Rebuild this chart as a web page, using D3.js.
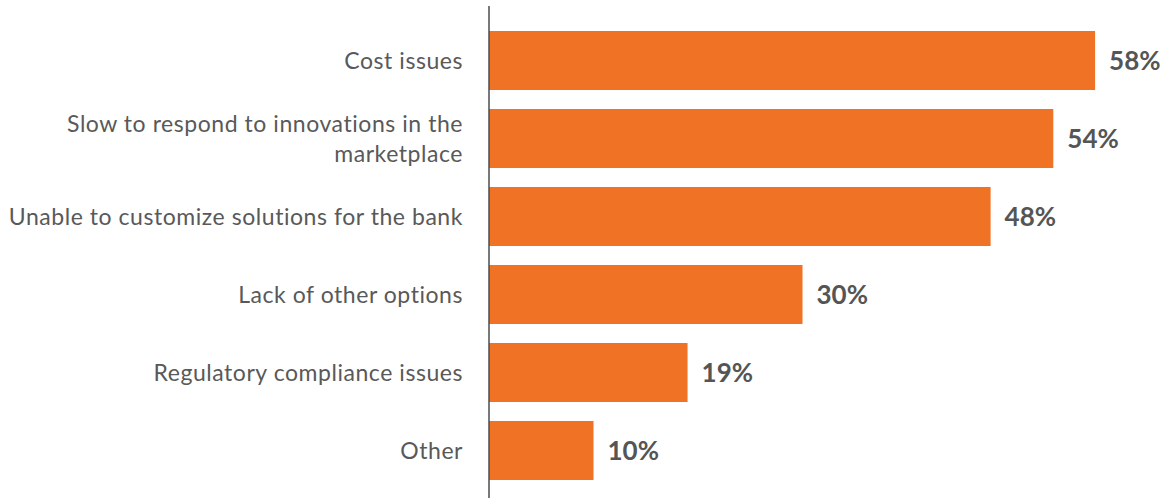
<!DOCTYPE html>
<html>
<head>
<meta charset="utf-8">
<script src="https://cdn.jsdelivr.net/npm/d3@7"></script>
<style>
  html, body { margin: 0; padding: 0; background: #fff; }
  svg { display: block; }
</style>
</head>
<body>
<div id="chart"></div>
<script>
const categories = [
    ['Cost issues'],
    ['Slow to respond to innovations in the', 'marketplace'],
    ['Unable to customize solutions for the bank'],
    ['Lack of other options'],
    ['Regulatory compliance issues'],
    ['Other']
];
const values = [58, 54, 48, 30, 19, 10];

const width = 1166;
const height = 498;
const axisX = 489;

const svg = d3.select('#chart').append('svg')
    .attr('width', width)
    .attr('height', height);

const y = d3.scaleBand()
    .domain(d3.range(categories.length))
    .range([21.5, 489.5])
    .paddingInner(19 / 78)
    .paddingOuter(9.5 / 78);

const x = d3.scaleLinear()
    .domain([0, 100])
    .range([axisX, axisX + 1045]);

// bars
svg.selectAll('.bar')
    .data(values)
    .enter().append('rect')
    .attr('class', 'bar')
    .attr('x', x(0))
    .attr('y', (d, i) => y(i))
    .attr('width', d => x(d) - x(0))
    .attr('height', y.bandwidth())
    .attr('fill', '#f07224');

// value labels
svg.selectAll('.value')
    .data(values)
    .enter().append('text')
    .attr('class', 'value')
    .attr('x', d => x(d) + 14)
    .attr('y', (d, i) => y(i) + y.bandwidth() / 2)
    .attr('dy', '0.36em')
    .attr('font-family', 'Lato')
    .attr('font-weight', 'bold')
    .attr('font-size', '26px')
    .attr('fill', '#555')
    .text(d => d + '%');

// category labels
const lineHeight = 30;
const labels = svg.selectAll('.cat')
    .data(categories)
    .enter().append('text')
    .attr('class', 'cat')
    .attr('text-anchor', 'end')
    .attr('font-family', 'Lato')
    .attr('font-size', '23px')
    .attr('letter-spacing', '0.55px')
    .attr('fill', '#595959')
    .attr('transform', (d, i) => `translate(${axisX - 26},${y(i) + y.bandwidth() / 2})`);

labels.selectAll('tspan')
    .data(d => d.map((t, j) => ({ t, j, n: d.length })))
    .enter().append('tspan')
    .attr('x', 0)
    .attr('y', d => (d.j - (d.n - 1) / 2) * lineHeight)
    .attr('dy', '0.38em')
    .text(d => d.t);

// axis line
svg.append('line')
    .attr('x1', axisX)
    .attr('x2', axisX)
    .attr('y1', 6)
    .attr('y2', height)
    .attr('stroke', '#4d4d4d')
    .attr('stroke-width', 1.5);
</script>
</body>
</html>
